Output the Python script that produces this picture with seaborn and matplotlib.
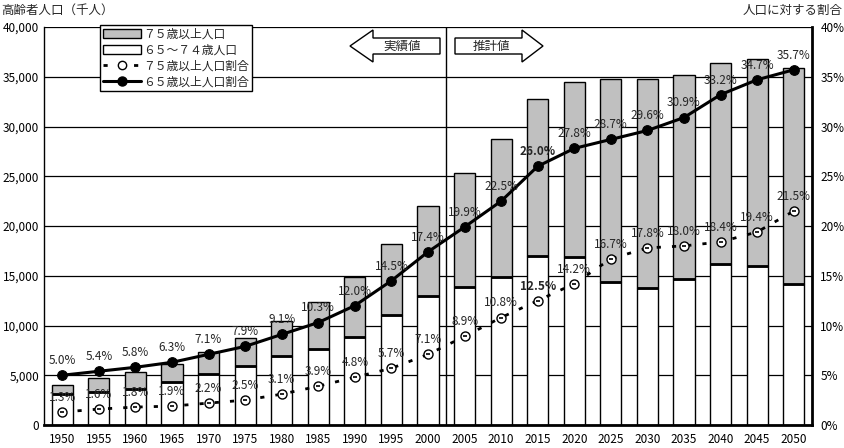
import numpy as np
import pandas as pd
import matplotlib
matplotlib.use("Agg")
import matplotlib.pyplot as plt
import seaborn as sns
from matplotlib.patches import Patch, Polygon
from matplotlib.lines import Line2D
from matplotlib.ticker import FuncFormatter, FixedLocator

years = [1950, 1955, 1960, 1965, 1970, 1975, 1980, 1985, 1990, 1995, 2000,
         2005, 2010, 2015, 2020, 2025, 2030, 2035, 2040, 2045, 2050]
# thousands of people
pop65_74 = [3120, 3350, 3650, 4290, 5090, 5960, 6960, 7640, 8870, 11090, 12990,
            13900, 14870, 16980, 16900, 14400, 13800, 14670, 16210, 16010, 14170]
pop75plus = [900, 1400, 1650, 1840, 2220, 2750, 3520, 4690, 5970, 7070, 8990,
             11400, 13840, 15750, 17600, 20340, 20940, 20470, 20140, 20740, 21730]
# share of total population (%)
pct65 = [5.0, 5.4, 5.8, 6.3, 7.1, 7.9, 9.1, 10.3, 12.0, 14.5, 17.4,
         19.9, 22.5, 26.0, 27.8, 28.7, 29.6, 30.9, 33.2, 34.7, 35.7]
pct75 = [1.3, 1.6, 1.8, 1.9, 2.2, 2.5, 3.1, 3.9, 4.8, 5.7, 7.1,
         8.9, 10.8, 12.5, 14.2, 16.7, 17.8, 18.0, 18.4, 19.4, 21.5]

legend_labels = ["７５歳以上人口", "６５～７４歳人口", "７５歳以上人口割合", "６５歳以上人口割合"]
left_title = "高齢者人口（千人）"
right_title = "人口に対する割合"
past_label = "実績値"
future_label = "推計値"

sns.set_style("white")
plt.rcParams['font.family'] = ['Liberation Sans Narrow', 'Noto Sans CJK JP', 'DejaVu Sans']
plt.rcParams['axes.unicode_minus'] = False

W, H = 844, 448
fig = plt.figure(figsize=(W / 100, H / 100), dpi=100)
L, R, T, B = 44, 812, 27, 425
ax = fig.add_axes([L / W, 1 - B / H, (R - L) / W, (B - T) / H])

df = pd.DataFrame({"year": [str(y) for y in years], "p6574": pop65_74, "p75": pop75plus})
n = len(years)
xs = np.arange(n)
bw = 0.58

sns.barplot(data=df, x="year", y="p6574", color="white", edgecolor="black",
            linewidth=1, width=bw, saturation=1, ax=ax, zorder=2)
ax.bar(xs, df["p75"], bottom=df["p6574"], width=bw, color="#c0c0c0",
       edgecolor="black", linewidth=1, zorder=2)
ax.hlines(df["p6574"], xs - bw / 2, xs + bw / 2, color="black", lw=2, zorder=3)

ax.set_xlim(-0.5, n - 0.5)
ax.set_ylim(0, 40000)
ax.set_yticks(np.arange(0, 40001, 5000))
ax.yaxis.set_major_formatter(FuncFormatter(lambda v, p: f"{int(v):,}"))
ax.set_axisbelow(True)
ax.yaxis.grid(True, color="black", lw=0.9)
ax.xaxis.grid(False)
ax.set_xlabel("")
ax.set_ylabel("")
ax.tick_params(axis="both", length=0, labelsize=8.5, colors="black")
ax.tick_params(axis="x", pad=6)
ax.xaxis.set_minor_locator(FixedLocator(np.arange(0.5, n - 0.5, 1)))
ax.tick_params(axis="x", which="minor", direction="in", length=3, width=1, color="black")
for s in ["top", "right"]:
    ax.spines[s].set_visible(False)
ax.spines["left"].set_color("black")
ax.spines["left"].set_linewidth(1)
ax.spines["bottom"].set_color("black")
ax.spines["bottom"].set_linewidth(2)

ax.axvline(10.5, color="black", lw=1, zorder=3)

ax2 = ax.twinx()
ax2.set_zorder(ax.get_zorder() + 1)
ax2.patch.set_visible(False)
sns.lineplot(x=xs, y=pct75, ax=ax2, color="black", lw=2, linestyle=(0, (1.5, 4)),
             marker="o", markersize=6.5, markerfacecolor="white", markeredgecolor="black",
             markeredgewidth=1, zorder=4)
ax2.plot(xs, pct75, ls="none", marker="_", ms=3.5, mew=1.2, color="black", zorder=5)
sns.lineplot(x=xs, y=pct65, ax=ax2, color="black", lw=2.2, marker="o", markersize=7,
             markerfacecolor="black", markeredgecolor="black", zorder=4)
ax2.set_ylim(0, 40)
ax2.set_xlim(-0.5, n - 0.5)
ax2.set_yticks(np.arange(0, 41, 5))
ax2.yaxis.set_major_formatter(FuncFormatter(lambda v, p: f"{int(v)}%"))
ax2.tick_params(axis="y", length=0, labelsize=8.5, colors="black", pad=6)
ax2.set_ylabel("")
ax2.grid(False)
for s in ["top", "left", "bottom"]:
    ax2.spines[s].set_visible(False)
ax2.spines["right"].set_color("black")
ax2.spines["right"].set_linewidth(2)

for i in range(n):
    wt = "bold" if years[i] == 2015 else "normal"
    ax2.annotate(f"{pct65[i]:.1f}%", (xs[i], pct65[i]), xytext=(0, 10.5),
                 textcoords="offset points", ha="center", va="center",
                 fontsize=8.5, fontweight=wt, zorder=6)
    ax2.annotate(f"{pct75[i]:.1f}%", (xs[i], pct75[i]), xytext=(0, 10.5),
                 textcoords="offset points", ha="center", va="center",
                 fontsize=8.5, fontweight=wt, zorder=6)

handles = [
    Patch(facecolor="#c0c0c0", edgecolor="black", lw=1),
    Patch(facecolor="white", edgecolor="black", lw=1),
    Line2D([], [], color="black", lw=2, linestyle=(0, (1.5, 4)), marker="o",
           markersize=6, markerfacecolor="white", markeredgecolor="black"),
    Line2D([], [], color="black", lw=2.2, marker="o", markersize=6.5,
           markerfacecolor="black"),
]
leg = ax2.legend(handles, legend_labels, loc="upper left",
                 bbox_to_anchor=((100 - L) / (R - L), 1.006), fontsize=8.5,
                 frameon=True, fancybox=False, framealpha=1, edgecolor="black",
                 handlelength=3.2, handleheight=0.7, labelspacing=0.25,
                 borderpad=0.25, handletextpad=0.2, borderaxespad=0)
leg.get_frame().set_linewidth(1)
leg.set_zorder(10)

fig.text(1 / W, 1 - 10 / H, left_title, ha="left", va="center", fontsize=9)
fig.text(843 / W, 1 - 10 / H, right_title, ha="right", va="center", fontsize=9)

def px(x, y):
    return (x / W, 1 - y / H)

left_arrow = [px(350, 46), px(373, 30), px(373, 38), px(440, 38), px(440, 54),
              px(373, 54), px(373, 62)]
right_arrow = [px(543, 46), px(522, 30), px(522, 38), px(455, 38), px(455, 54),
               px(522, 54), px(522, 62)]
for pts in (left_arrow, right_arrow):
    fig.patches.append(Polygon(pts, closed=True, facecolor="white", edgecolor="black",
                               lw=1, transform=fig.transFigure, zorder=5))
fig.text(402 / W, 1 - 46 / H, past_label, ha="center", va="center", fontsize=9, zorder=6)
fig.text(491 / W, 1 - 46 / H, future_label, ha="center", va="center", fontsize=9, zorder=6)

fig.savefig("out.png", dpi=100)
